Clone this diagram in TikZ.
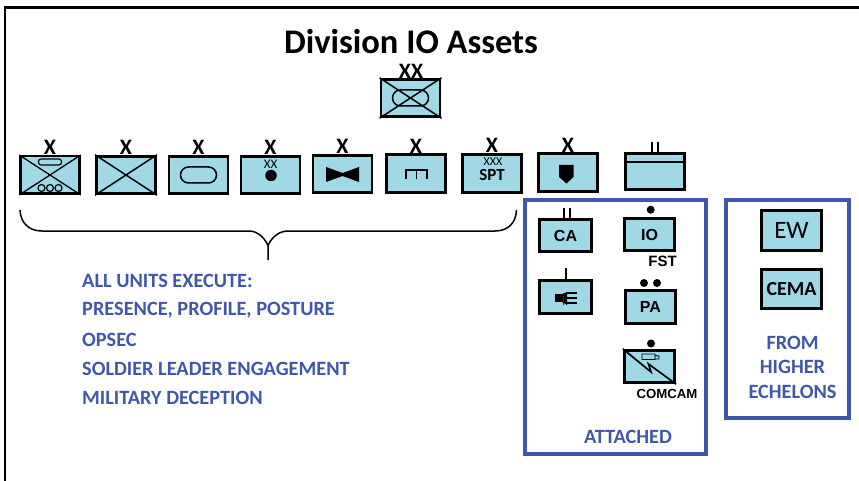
\documentclass[tikz,border=0pt]{standalone}
\usepackage{fontspec}
\setmainfont{Carlito}
\newfontfamily\arialf{Liberation Sans}
\definecolor{unit}{HTML}{A0D8E6}
\definecolor{bluetx}{HTML}{3F57AC}
\tikzset{
  x=1pt,y=-1pt,
  unitbox/.style={draw=black,line width=2.9pt,fill=unit,inner sep=0pt,minimum width=59pt,minimum height=37.5pt},
  small/.style={draw=black,line width=2.8pt,fill=unit,inner sep=0pt,minimum width=50.5pt,minimum height=32.5pt,font=\arialf\bfseries\fontsize{16}{16}\selectfont},
  ech/.style={font=\bfseries\fontsize{22}{22}\selectfont,inner sep=0pt},
  lbl/.style={font=\bfseries\fontsize{20.3}{20.3}\selectfont,text=bluetx,inner sep=0pt,anchor=west},
  assetframe/.style={draw=bluetx,line width=3.6pt},
  sym/.style={draw=black,line width=1.5pt},
  dotmark/.style={fill=black,circle,minimum size=8pt,inner sep=0pt},
  oval/.style={draw,line width=1.5pt,rounded corners=8pt,minimum width=36pt,minimum height=16pt,inner sep=0pt},
  ringmark/.style={draw,circle,line width=1.2pt,minimum size=7pt,inner sep=0pt},
  bigbox/.style={draw=black,line width=2.8pt,fill=unit,minimum width=60pt,minimum height=39.5pt,inner sep=0pt}
}
\begin{document}
\begin{tikzpicture}
\useasboundingbox (0,0) rectangle (859,481);
\draw[line width=2.2pt] (5,481) -- (5,7.5) -- (859,7.5);
\node[font=\bfseries\fontsize{34.5}{34.5}\selectfont,inner sep=0pt] (title) at (411,42) {Division IO Assets};
% top
\node[unitbox] (top) at (410.5,98) {};
\draw[sym] (top.north west) -- (top.south east) (top.south west) -- (top.north east);
\node[oval] (topo) at (top.center) {};
\node[ech] (topx) at (411,71.5) {XX};
% row
\node[unitbox,line width=2.5pt] (u1) at (50,175) {};
\draw[sym,line width=1.3pt] (u1.north west) -- (u1.south east) (u1.south west) -- (u1.north east);
\node[draw,line width=1.1pt,rounded corners=2.5pt,minimum width=23pt,minimum height=6pt,inner sep=0pt] (u1o) at (50,162) {};
\foreach \i/\x in {a/41.5,b/50,c/58.5}{\node[ringmark] (u1\i) at (\x,188) {};}
\node[ech] (x1) at (50,147.5) {X};
\node[unitbox] (u2) at (126,175) {};
\draw[sym] (u2.north west) -- (u2.south east) (u2.south west) -- (u2.north east);
\node[ech] (x2) at (126,147.5) {X};
\node[unitbox] (u3) at (198.5,175) {};
\node[oval] (u3o) at (u3.center) {};
\node[ech] (x3) at (198.5,147.5) {X};
\node[unitbox] (u4) at (270.5,175) {};
\node[font=\fontsize{13}{13}\selectfont,inner sep=0pt] (u4x) at (270.5,164.5) {XX};
\node[dotmark,minimum size=11.5pt] (u4d) at (271,175.5) {};
\node[ech] (x4) at (270.5,147) {X};
\node[unitbox] (u5) at (342.5,174) {};
\fill (326,167) -- (342.5,173) -- (359,167) -- (359,182) -- (342.5,176) -- (326,182) -- cycle;
\node[ech] (x5) at (342.5,146) {X};
\node[unitbox] (u6) at (416,173.5) {};
\draw[line width=1.6pt] (406,179) -- (406,170) -- (427,170) -- (427,179) (416.5,170) -- (416.5,179);
\node[ech] (x6) at (416,146) {X};
\node[unitbox] (u7) at (492,173.5) {};
\node[font=\fontsize{12}{12}\selectfont,inner sep=0pt] (u7x) at (493,161.5) {XXX};
\node[font=\fontsize{17}{17}\bfseries\selectfont,inner sep=0pt] (u7s) at (492,174.5) {SPT};
\node[ech] (x7) at (492,145.5) {X};
\node[unitbox] (u8) at (568,172.5) {};
\fill (559,165) -- (573.5,165) -- (573.5,177) -- (566.5,183.5) -- (559,177) -- cycle;
\node[ech] (x8) at (568,145.5) {X};
\node[unitbox,minimum width=59.5pt,minimum height=36.5pt] (u9) at (655,171.5) {};
\draw[line width=2pt] (u9.west |- 0,162) -- (u9.east |- 0,162);
\draw[line width=2pt] (652,142) -- (652,153) (658,142) -- (658,153);
% brace
\draw[line width=1.5pt] (20,210) .. controls (20.5,222) and (28,231) .. (42,231) -- (249,231) .. controls (259,231) and (266,240) .. (268,246) -- (268,260) (268,246) .. controls (270,240) and (277,231) .. (288,231) -- (495,231) .. controls (509,231) and (516,222) .. (516.5,210);
% labels
\node[lbl] (l1) at (82,281) {ALL UNITS EXECUTE:};
\node[lbl] (l2) at (82,310.5) {PRESENCE, PROFILE, POSTURE};
\node[lbl] (l3) at (82,340) {OPSEC};
\node[lbl] (l4) at (82,368.5) {SOLDIER LEADER ENGAGEMENT};
\node[lbl] (l5) at (82,398) {MILITARY DECEPTION};
% frames
\draw[assetframe] (525,200) rectangle (706,454);
\draw[assetframe] (726,200) rectangle (849,418);
\node[lbl,anchor=center] (att) at (628,436.5) {ATTACHED};
\node[lbl,anchor=center] (f1) at (792.5,343) {FROM};
\node[lbl,anchor=center] (f2) at (792.5,367) {HIGHER};
\node[lbl,anchor=center] (f3) at (792.5,391.5) {ECHELONS};
% attached units
\node[small,minimum width=52pt] (ca) at (565.5,235.5) {CA};
\draw[line width=1.6pt] (564,208) -- (564,218) (570,208) -- (570,218);
\node[small] (io) at (649.5,234.5) {IO};
\node[dotmark] (iod) at (650.7,209.7) {};
\node[font=\arialf\bfseries\fontsize{15}{15}\selectfont,inner sep=0pt] (fst) at (662.5,261.5) {FST};
\node[small,minimum width=52pt] (sp) at (565.5,297) {};
\draw[line width=1.5pt] (566,268) -- (566,279);
\fill (555,294) rectangle (562,302);
\fill (562,294) -- (567,292) -- (567,305) -- (562,302) -- cycle;
\draw[line width=1.3pt] (566,293) -- (577,293) (566,298) -- (577,298) (566,303) -- (577,303);
\draw[red!75!black,line width=.7pt,densely dotted] (563.5,292.5) -- (563.5,305);
\node[small] (pa) at (650.5,307) {PA};
\node[dotmark] (pad1) at (644,283) {};
\node[dotmark] (pad2) at (657,283) {};
\node[small] (cc) at (649.5,366.5) {};
\node[dotmark] (ccd) at (651,343.5) {};
\draw[line width=1.7pt] (cc.north west) -- (651,372) -- (648.5,364) -- (cc.south east);
\draw[line width=.9pt] (642,354) rectangle (655,359.5) (655,355.5) -- (659,356) -- (659,359) -- (655,359);
\node[font=\arialf\bfseries\fontsize{13.2}{13.2}\selectfont,inner sep=0pt] (ccl) at (667,393.5) {COMCAM};
% from higher
\node[bigbox,font=\fontsize{25}{25}\selectfont] (ew) at (791.5,230.5) {EW};
\node[bigbox,font=\bfseries\fontsize{20}{20}\selectfont] (cema) at (791.5,289) {CEMA};
\end{tikzpicture}
\end{document}
